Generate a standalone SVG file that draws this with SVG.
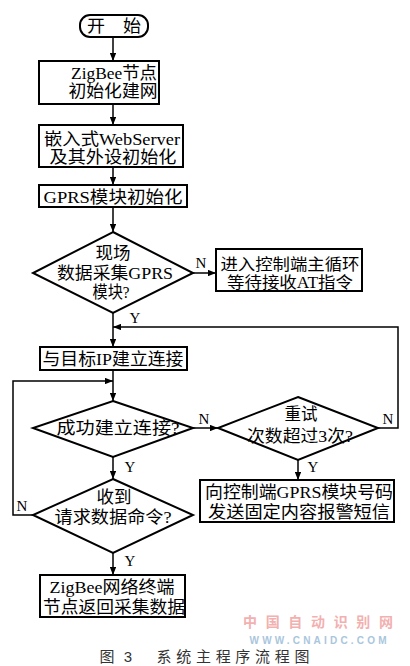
<svg xmlns="http://www.w3.org/2000/svg" width="410" height="666" viewBox="0 0 410 666">
<style>
.b{fill:#fff;stroke:#000;stroke-width:2}
.c{fill:none;stroke:#000;stroke-width:1.5}
text{font-family:"Liberation Serif","Noto Sans CJK SC",serif;font-size:17px;fill:#000;text-anchor:middle}
.l{font-size:15px}
.s{font-size:16px}
</style>
<defs>
<marker id="a" viewBox="0 0 10 8" refX="10" refY="4" markerWidth="8" markerHeight="6.5" orient="auto" markerUnits="userSpaceOnUse"><path d="M0,0 L10,4 L0,8 z" fill="#000"/></marker>
</defs>
<rect width="410" height="666" fill="#fff"/>
<g id="connectors">
<path class="c" d="M113,37 V61" marker-end="url(#a)"/>
<path class="c" d="M113,104 V125" marker-end="url(#a)"/>
<path class="c" d="M113,167 V185" marker-end="url(#a)"/>
<path class="c" d="M113,207 V232" marker-end="url(#a)"/>
<path class="c" d="M193,273 H216" marker-end="url(#a)"/>
<path class="c" d="M113,313 V347" marker-end="url(#a)"/>
<path class="c" d="M378,428 H398 V327 H113" marker-end="url(#a)"/>
<path class="c" d="M113,370 V401" marker-end="url(#a)"/>
<path class="c" d="M193,428 H218" marker-end="url(#a)"/>
<path class="c" d="M298,460 V480" marker-end="url(#a)"/>
<path class="c" d="M113,457 V479" marker-end="url(#a)"/>
<path class="c" d="M33,515 H13 V381 H113" marker-end="url(#a)"/>
<path class="c" d="M113,553 V575" marker-end="url(#a)"/>
<text class="l" x="201" y="268">N</text>
<text class="l" x="135" y="323">Y</text>
<text class="l" x="388" y="424">N</text>
<text class="l" x="204" y="424">N</text>
<text class="l" x="313" y="472">Y</text>
<text class="l" x="130" y="472">Y</text>
<text class="l" x="22" y="511">N</text>
<text class="l" x="130" y="566">Y</text>
</g>
<g id="start">
<rect class="b" x="80" y="15" width="68" height="22" rx="10"/>
<text x="114" y="32" textLength="54" lengthAdjust="spacingAndGlyphs">开　始</text>
</g>
<g id="n1">
<rect class="b" x="39" y="61" width="120" height="43"/>
<text x="114" y="79" textLength="86" lengthAdjust="spacingAndGlyphs">ZigBee节点</text>
<text x="113" y="97" textLength="89" lengthAdjust="spacingAndGlyphs">初始化建网</text>
</g>
<g id="n2">
<rect class="b" x="39" y="125" width="144" height="42"/>
<text x="112" y="145" textLength="136" lengthAdjust="spacingAndGlyphs">嵌入式WebServer</text>
<text x="113" y="163" textLength="127" lengthAdjust="spacingAndGlyphs">及其外设初始化</text>
</g>
<g id="n3">
<rect class="b" x="39" y="185" width="148" height="22"/>
<text x="113" y="203" textLength="139" lengthAdjust="spacingAndGlyphs">GPRS模块初始化</text>
</g>
<g id="d1">
<polygon class="b" points="113,232 193,273 113,313 33,273"/>
<text x="113" y="259" textLength="35" lengthAdjust="spacingAndGlyphs">现场</text>
<text x="115" y="279" textLength="116" lengthAdjust="spacingAndGlyphs">数据采集GPRS</text>
<text x="111" y="298" textLength="37" lengthAdjust="spacingAndGlyphs">模块?</text>
</g>
<g id="n4">
<rect class="b" x="216" y="249" width="146" height="42"/>
<text class="s" x="290" y="270" textLength="139" lengthAdjust="spacingAndGlyphs">进入控制端主循环</text>
<text class="s" x="290" y="288" textLength="126" lengthAdjust="spacingAndGlyphs">等待接收AT指令</text>
</g>
<g id="n5">
<rect class="b" x="40" y="347" width="147" height="23"/>
<text x="113" y="365" textLength="141" lengthAdjust="spacingAndGlyphs">与目标IP建立连接</text>
</g>
<g id="d2">
<polygon class="b" points="113,401 193,428 113,457 33,428"/>
<text x="118" y="434" textLength="123" lengthAdjust="spacingAndGlyphs">成功建立连接?</text>
</g>
<g id="d3retry">
<polygon class="b" points="298,397 378,428 298,460 218,428"/>
<text x="301" y="420" textLength="33" lengthAdjust="spacingAndGlyphs">重试</text>
<text x="300" y="442" textLength="106" lengthAdjust="spacingAndGlyphs">次数超过3次?</text>
</g>
<g id="n6">
<rect class="b" x="200" y="480" width="194" height="42"/>
<text x="299" y="498" textLength="188" lengthAdjust="spacingAndGlyphs">向控制端GPRS模块号码</text>
<text x="299" y="518" textLength="182" lengthAdjust="spacingAndGlyphs">发送固定内容报警短信</text>
</g>
<g id="d4">
<polygon class="b" points="113,479 193,515 113,553 33,515"/>
<text x="114" y="503" textLength="35" lengthAdjust="spacingAndGlyphs">收到</text>
<text x="113" y="523" textLength="117" lengthAdjust="spacingAndGlyphs">请求数据命令?</text>
</g>
<g id="n7">
<rect class="b" x="40" y="575" width="145" height="42"/>
<text x="112" y="593" textLength="125" lengthAdjust="spacingAndGlyphs">ZigBee网络终端</text>
<text x="114" y="613" textLength="142" lengthAdjust="spacingAndGlyphs">节点返回采集数据</text>
</g>
<g id="watermark">
<text x="318" y="627" style="font-family:'Noto Sans CJK SC',sans-serif;font-size:14px;font-weight:bold;fill:#f2b0b0" textLength="150">中国自动识别网</text>
<text x="318" y="644" style="font-family:'Liberation Sans',sans-serif;font-size:10px;font-weight:bold;fill:#a9c6dc" textLength="137">WWW.CNAIDC.COM</text>
</g>
<g id="caption">
<text x="107" y="662" style="font-family:'Noto Sans CJK SC',sans-serif;font-size:15px;fill:#333">图</text>
<text x="128" y="662" style="font-family:'Liberation Sans',sans-serif;font-size:15px;fill:#333">3</text>
<text x="233" y="662" style="font-family:'Noto Sans CJK SC',sans-serif;font-size:15px;fill:#333" textLength="153">系统主程序流程图</text>
</g>
</svg>
